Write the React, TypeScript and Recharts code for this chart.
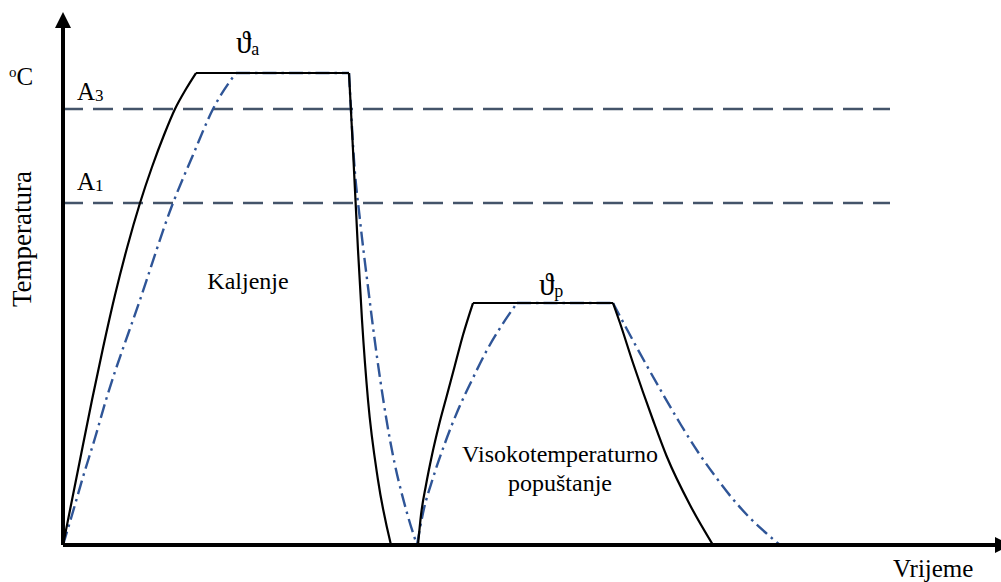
import { LineChart, Line, XAxis, YAxis, ReferenceLine, ReferenceDot } from "recharts";

// time (t) and temperature (temp) in arbitrary diagram units
const surfaceHardenRise = [[0, 0], [15, 75], [29, 145], [40, 197], [52, 250], [64, 297], [77, 342], [89, 378], [101, 410], [112, 436], [123, 456], [133, 472]];
const surfaceHardenHold = [[133, 472], [286, 472]];
const surfaceQuench = [[286, 472], [290, 395], [295, 295], [299, 225], [305, 145], [315, 65], [328, 0]];
const surfaceRest = [[328, 0], [355, 0]];
const surfaceTemperRise = [[355, 0], [358, 30], [363, 60], [369, 90], [376, 120], [384, 150], [392, 180], [400, 210], [410, 242]];
const surfaceTemperHold = [[410, 242], [550, 242]];
const surfaceTemperCool = [[550, 242], [557, 222], [570, 182], [590, 125], [604, 88], [627, 40], [650, 0]];

const coreHardenRise = [[0, 0], [9, 30], [20, 68], [32, 107], [43, 145], [77, 245], [110, 342], [130, 390], [150, 436], [173, 472]];
const coreHardenHold = [[173, 472], [286, 472]];
const coreQuench = [[286, 472], [288, 435], [291, 385], [297, 325], [305, 258], [314, 188], [327, 105], [344, 32], [354, 0]];
const coreTemperRise = [[354, 0], [360, 32], [370, 67], [382, 102], [395, 135], [409, 165], [424, 195], [439, 220], [454, 242]];
const coreTemperHold = [[454, 242], [550, 242]];
const coreTemperCool = [[550, 242], [567, 210], [584, 179], [601, 149], [618, 120], [635, 93], [652, 69], [669, 47], [686, 28], [703, 12], [717, 0]];

const criticalTemps = [
  { name: "A3", temp: 436 },
  { name: "A1", temp: 342 },
];
const criticalLineEnd = 827;

const tMax = 937;
const tempMax = 533;

const toPts = (arr: number[][]) => arr.map(([t, temp]) => ({ t, temp }));

const surfaceSegments = [surfaceHardenRise, surfaceHardenHold, surfaceQuench, surfaceRest, surfaceTemperRise, surfaceTemperHold, surfaceTemperCool];
const coreSegments = [coreHardenRise, coreHardenHold, coreQuench, coreTemperRise, coreTemperHold, coreTemperCool];

const serif = '"Liberation Serif", "Times New Roman", "DejaVu Serif", serif';

export default function App() {
  return (
    <div style={{ position: "relative", width: 1001, height: 582, fontFamily: serif }}>
      <style>{"body{margin:0}"}</style>
      <LineChart width={1001} height={582} margin={{ top: 12, right: 1, bottom: 37, left: 63 }}>
        <XAxis dataKey="t" type="number" domain={[0, tMax]} allowDataOverflow hide />
        <YAxis dataKey="temp" type="number" domain={[0, tempMax]} allowDataOverflow hide />

        {criticalTemps.map((c) => (
          <ReferenceLine
            key={c.name}
            segment={[{ x: 0, y: c.temp }, { x: criticalLineEnd, y: c.temp }]}
            stroke="#44546a"
            strokeWidth={2.5}
            strokeDasharray="20 10"
          />
        ))}

        {coreSegments.map((seg, i) => (
          <Line
            key={"core" + i}
            data={toPts(seg)}
            dataKey="temp"
            type="monotone"
            stroke="#2f5597"
            strokeWidth={2.4}
            strokeDasharray="14 5 2.5 5"
            dot={false}
            activeDot={false}
            isAnimationActive={false}
          />
        ))}
        {surfaceSegments.map((seg, i) => (
          <Line
            key={"surf" + i}
            data={toPts(seg)}
            dataKey="temp"
            type="monotone"
            stroke="#000"
            strokeWidth={2.2}
            dot={false}
            activeDot={false}
            isAnimationActive={false}
          />
        ))}

        {/* axes with arrows */}
        <ReferenceLine segment={[{ x: 0, y: 0 }, { x: 933, y: 0 }]} stroke="#000" strokeWidth={4} ifOverflow="visible" />
        <ReferenceLine segment={[{ x: 0, y: 0 }, { x: 0, y: 518 }]} stroke="#000" strokeWidth={4} ifOverflow="visible" />
        <ReferenceDot
          x={0}
          y={518}
          ifOverflow="visible"
          shape={(p: any) => <polygon points={`${p.cx - 8},${p.cy + 1} ${p.cx + 8},${p.cy + 1} ${p.cx},${p.cy - 15}`} fill="#000" />}
        />
        <ReferenceDot
          x={933}
          y={0}
          ifOverflow="visible"
          shape={(p: any) => <polygon points={`${p.cx - 1},${p.cy - 8} ${p.cx - 1},${p.cy + 8} ${p.cx + 15},${p.cy}`} fill="#000" />}
        />
      </LineChart>

      <svg width={1001} height={582} style={{ position: "absolute", left: 0, top: 0, pointerEvents: "none", fontFamily: serif }} fill="#000">
        <text transform="translate(31,239) rotate(-90)" textAnchor="middle" fontSize={27}>Temperatura</text>
        <text x={9} y={85} fontSize={25}>
          <tspan fontSize={15} dy={-8}>o</tspan>
          <tspan dy={8}>C</tspan>
        </text>
        <text x={77} y={100} fontSize={25}>
          A<tspan fontSize={17} dy={1}>3</tspan>
        </text>
        <text x={77} y={190} fontSize={25}>
          A<tspan fontSize={17} dy={1}>1</tspan>
        </text>
        <text x={236} y={53} fontSize={31}>
          ϑ<tspan fontSize={18} dy={2}>a</tspan>
        </text>
        <text x={539} y={295} fontSize={31}>
          ϑ<tspan fontSize={18} dy={2}>p</tspan>
        </text>
        <text x={248} y={289} textAnchor="middle" fontSize={24}>Kaljenje</text>
        <text x={560} y={462} textAnchor="middle" fontSize={24}>Visokotemperaturno</text>
        <text x={560} y={491} textAnchor="middle" fontSize={24}>popuštanje</text>
        <text x={893} y={577} fontSize={25}>Vrijeme</text>
      </svg>
    </div>
  );
}
